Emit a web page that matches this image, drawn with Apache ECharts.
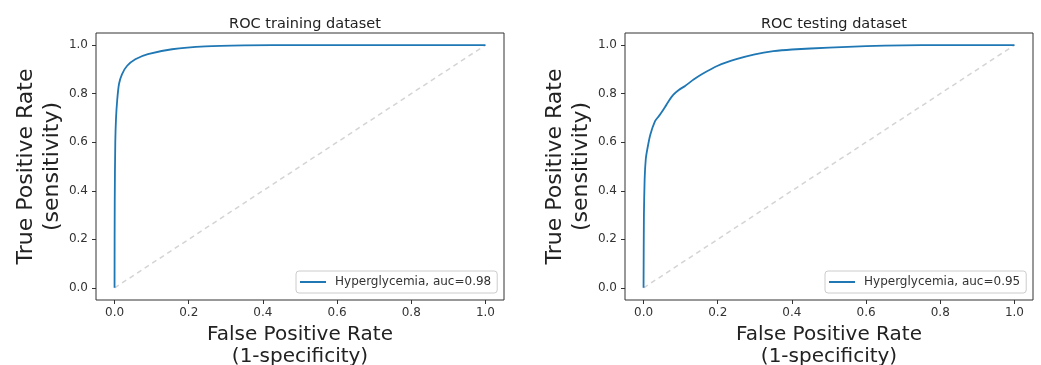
<!DOCTYPE html>
<html>
<head>
<meta charset="utf-8">
<script src="https://cdn.jsdelivr.net/npm/echarts@6/dist/echarts.min.js"></script>
<style>
  html, body { margin: 0; padding: 0; background: #fff; }
  #container { width: 1041px; height: 365px; }
</style>
</head>
<body>
<div id="container"></div>
<script>
// ROC points
var trainFpr = [0, 0.0005, 0.002, 0.004, 0.007, 0.012, 0.02, 0.034, 0.056, 0.09, 0.155, 0.245, 0.35, 0.5, 0.7, 1.0];
var trainTpr = [0, 0.35, 0.6, 0.7, 0.77, 0.84, 0.88, 0.915, 0.942, 0.963, 0.983, 0.995, 0.999, 1.0, 1.0, 1.0];

var testFpr = [0, 0.001, 0.003, 0.006, 0.01, 0.018, 0.031, 0.04, 0.045, 0.058, 0.068, 0.08, 0.095, 0.112, 0.135, 0.157, 0.2, 0.25, 0.3, 0.35, 0.4, 0.5, 0.6, 0.7, 0.8, 1.0];
var testTpr = [0, 0.3, 0.45, 0.53, 0.57, 0.63, 0.687, 0.705, 0.715, 0.745, 0.77, 0.795, 0.815, 0.832, 0.858, 0.88, 0.915, 0.942, 0.962, 0.975, 0.982, 0.99, 0.996, 0.999, 1.0, 1.0];

var chanceLine = [[0, 0], [1, 1]];
var tickValues = [0, 0.2, 0.4, 0.6, 0.8, 1.0];
var titles = ['ROC training dataset', 'ROC testing dataset'];
var names = ['Hyperglycemia, auc=0.98', 'Hyperglycemia, auc=0.95'];

function pairs(xs, ys) {
    return xs.map(function (x, i) { return [x, ys[i]]; });
}

var font = 'DejaVu Sans';
var gridLefts = [96, 625];

var myChart = echarts.init(document.getElementById('container'));

function xAxisFor(i) {
    return {
        type: 'value', gridIndex: i, min: -0.05, max: 1.05,
        splitLine: { show: false },
        axisLine: { show: false, onZero: false },
        axisTick: { show: true, length: 4, customValues: tickValues, lineStyle: { color: '#333' } },
        axisLabel: {
            customValues: tickValues, color: '#333', fontSize: 12, fontFamily: font, margin: 7,
            formatter: function (v) { return v.toFixed(1); }
        },
        name: 'False Positive Rate\n(1-specificity)',
        nameLocation: 'middle', nameGap: 19,
        nameTextStyle: { fontSize: 20, fontFamily: font, color: '#222', lineHeight: 22, verticalAlign: 'top' }
    };
}

function yAxisFor(i) {
    return {
        type: 'value', gridIndex: i, min: -0.05, max: 1.05,
        splitLine: { show: false },
        axisLine: { show: false, onZero: false },
        axisTick: { show: true, length: 4, customValues: tickValues, lineStyle: { color: '#333' } },
        axisLabel: {
            customValues: tickValues, color: '#333', fontSize: 12, fontFamily: font, margin: 8,
            formatter: function (v) { return v.toFixed(1); }
        },
        name: 'True Positive Rate\n(sensitivity)',
        nameLocation: 'middle', nameGap: 31, nameRotate: 90,
        nameTextStyle: { fontSize: 22, fontFamily: font, color: '#222', lineHeight: 26 }
    };
}

var option = {
    backgroundColor: '#fff',
    animation: false,
    title: [0, 1].map(function (i) {
        return {
            text: titles[i], left: gridLefts[i] + 204, top: 12, textAlign: 'center',
            textStyle: { fontSize: 14.5, fontWeight: 'normal', fontFamily: font, color: '#222' }
        };
    }),
    legend: [0, 1].map(function (i) {
        return {
            data: [names[i]], left: gridLefts[i] + 200, top: 271,
            orient: 'horizontal', icon: 'rect', itemWidth: 26, itemHeight: 2, itemGap: 8,
            padding: [5, 6, 5, 4], borderColor: '#ccc', borderWidth: 1, borderRadius: 3,
            backgroundColor: 'rgba(255,255,255,0.8)',
            textStyle: { fontSize: 12, fontFamily: font, color: '#333', padding: [0, 0, 0, 4] }
        };
    }),
    grid: [0, 1].map(function (i) {
        return {
            left: gridLefts[i], top: 33, width: 408, height: 267,
            containLabel: false, outerBoundsMode: 'none',
            show: true, borderColor: '#333', borderWidth: 1, backgroundColor: 'transparent'
        };
    }),
    xAxis: [xAxisFor(0), xAxisFor(1)],
    yAxis: [yAxisFor(0), yAxisFor(1)],
    series: [
        { name: 'chance', type: 'line', xAxisIndex: 0, yAxisIndex: 0, data: chanceLine, showSymbol: false,
          lineStyle: { color: '#d4d4d4', width: 1.5, type: [5, 4] }, z: 1 },
        { name: names[0], type: 'line', xAxisIndex: 0, yAxisIndex: 0, data: pairs(trainFpr, trainTpr),
          showSymbol: false, smooth: 0.3, color: '#1f77b4', lineStyle: { color: '#1f77b4', width: 1.8 }, z: 3 },
        { name: 'chance2', type: 'line', xAxisIndex: 1, yAxisIndex: 1, data: chanceLine, showSymbol: false,
          lineStyle: { color: '#d4d4d4', width: 1.5, type: [5, 4] }, z: 1 },
        { name: names[1], type: 'line', xAxisIndex: 1, yAxisIndex: 1, data: pairs(testFpr, testTpr),
          showSymbol: false, smooth: 0.2, color: '#1f77b4', lineStyle: { color: '#1f77b4', width: 1.8 }, z: 3 }
    ]
};

myChart.setOption(option);
</script>
</body>
</html>
